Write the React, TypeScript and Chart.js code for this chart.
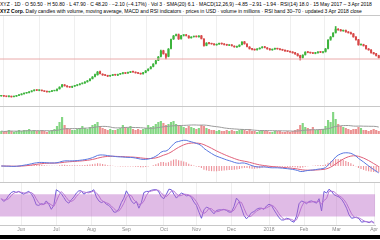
import React, { useEffect, useRef } from "react";
import { Chart, registerables } from "chart.js";
Chart.register(...registerables);

// ---- data ----
const monthLabels = ["Jun", "Jul", "Aug", "Sep", "Oct", "Nov", "Dec", "2018", "Feb", "Mar", "Apr"];
const monthStartIdx = [8, 22, 36, 50, 65, 78, 92, 107, 121, 134, 149];

const opens = [
  10.0, 10.3, 9.7, 9.4, 9.8, 9.2, 9.7, 10.5, 11.2, 12.0,
  12.9, 13.4, 14.3, 15.2, 16.1, 15.5, 15.8, 15.0, 14.7, 14.0,
  14.6, 15.2, 15.4, 17.0, 19.2, 21.3, 20.0, 19.3, 18.7, 19.8,
  20.5, 21.2, 22.3, 22.9, 24.1, 25.3, 27.2, 29.4, 31.0, 34.5,
  32.0, 31.2, 30.5, 29.9, 30.6, 31.5, 30.7, 31.8, 32.5, 33.2,
  32.8, 33.6, 34.5, 34.0, 33.2, 32.8, 32.1, 33.5, 35.4, 37.2,
  39.4, 42.3, 45.6, 49.5, 55.4, 52.0, 49.5, 57.4, 66.9, 70.4,
  71.5, 67.2, 70.5, 71.2, 70.1, 68.0, 69.2, 69.8, 69.0, 70.3,
  67.0, 60.5, 63.2, 62.6, 62.2, 61.0, 61.9, 62.8, 62.1, 61.5,
  60.6, 61.2, 60.0, 58.8, 59.5, 61.2, 64.3, 62.0, 59.1, 57.3,
  56.8, 56.2, 57.0, 58.2, 59.3, 58.2, 57.2, 56.0, 56.9, 57.6,
  57.1, 56.5, 55.9, 55.2, 54.8, 54.2, 53.3, 52.2, 50.5, 48.3,
  51.2, 54.2, 53.7, 53.2, 52.5, 53.2, 54.3, 53.5, 54.2, 57.5,
  66.4, 69.3, 73.2, 77.0, 76.3, 75.0, 75.8, 74.2, 73.5, 72.3,
  69.2, 66.4, 61.2, 61.5, 60.4, 57.2, 56.2, 53.4, 52.4, 50.5,
];
const highs = [
  10.6, 10.5, 9.9, 10.1, 10.0, 9.9, 10.6, 11.3, 12.4, 13.1,
  13.5, 14.3, 15.4, 16.3, 16.4, 16.2, 16.0, 15.2, 14.9, 14.8,
  15.3, 15.6, 17.2, 19.3, 21.6, 21.5, 20.3, 19.5, 19.9, 20.6,
  21.4, 22.4, 23.1, 24.3, 25.6, 27.4, 29.5, 31.8, 34.6, 35.0,
  32.3, 31.5, 30.8, 30.8, 31.5, 31.8, 31.9, 32.7, 33.3, 33.5,
  33.8, 34.5, 34.8, 34.2, 33.5, 33.0, 33.7, 35.5, 37.3, 39.5,
  42.4, 45.7, 49.6, 56.0, 55.8, 52.4, 57.5, 67.0, 70.6, 71.8,
  72.0, 70.6, 71.4, 71.6, 70.4, 69.4, 69.9, 70.1, 70.4, 70.6,
  67.3, 63.4, 63.6, 62.9, 62.5, 62.1, 62.8, 63.1, 62.4, 61.8,
  61.3, 61.5, 60.3, 59.9, 61.3, 64.4, 64.6, 62.3, 59.4, 57.6,
  57.1, 57.4, 58.3, 59.4, 59.6, 58.5, 57.5, 57.1, 57.8, 57.9,
  57.3, 56.8, 56.1, 55.5, 55.0, 54.4, 53.6, 52.5, 50.8, 51.3,
  54.3, 54.5, 54.0, 53.5, 53.7, 54.4, 54.6, 54.3, 57.6, 66.4,
  69.5, 73.4, 79.5, 77.4, 76.6, 76.0, 76.0, 74.5, 73.8, 72.6,
  69.5, 66.7, 61.8, 61.8, 60.7, 57.5, 56.5, 53.7, 52.7, 50.8,
];
const lows = [
  9.7, 9.5, 9.2, 9.2, 8.8, 9.0, 9.5, 10.3, 11.0, 11.8,
  12.6, 13.2, 14.0, 15.0, 15.3, 15.2, 15.0, 14.3, 13.8, 13.8,
  14.4, 15.0, 15.2, 16.8, 18.9, 19.8, 18.8, 18.5, 18.4, 19.5,
  20.2, 21.0, 22.0, 22.6, 23.8, 25.0, 27.0, 29.2, 30.8, 32.0,
  30.6, 30.3, 29.4, 29.6, 30.3, 30.6, 30.4, 31.5, 32.2, 32.3,
  32.5, 33.3, 33.7, 32.8, 32.4, 31.7, 31.8, 33.2, 35.1, 37.0,
  39.1, 42.0, 45.3, 49.2, 51.8, 47.0, 49.2, 57.1, 66.5, 70.0,
  66.5, 66.9, 70.0, 70.0, 67.7, 67.8, 68.9, 68.9, 68.8, 67.0,
  59.8, 60.2, 62.1, 61.7, 60.8, 60.7, 61.6, 61.7, 61.0, 60.5,
  60.3, 59.9, 58.7, 58.5, 59.2, 61.0, 61.8, 59.0, 56.9, 56.2,
  55.7, 55.9, 56.8, 57.9, 58.1, 56.7, 55.8, 55.7, 56.6, 56.7,
  56.0, 55.5, 54.7, 54.3, 53.7, 52.8, 51.7, 49.9, 46.0, 48.0,
  50.9, 53.2, 52.7, 52.3, 52.2, 52.9, 53.3, 53.2, 53.9, 57.2,
  65.7, 69.0, 72.9, 75.7, 74.8, 74.7, 73.7, 72.9, 71.8, 68.7,
  65.8, 60.7, 60.9, 59.9, 56.8, 55.7, 52.9, 51.8, 50.0, 47.9,
];
const closes = [
  10.2, 9.8, 9.5, 9.9, 9.1, 9.6, 10.4, 11.0, 12.1, 12.8,
  13.2, 14.0, 15.1, 16.0, 15.6, 15.9, 15.2, 14.6, 14.1, 14.5,
  15.0, 15.3, 16.8, 18.9, 21.0, 20.2, 19.1, 18.8, 19.6, 20.3,
  21.0, 22.1, 22.8, 24.0, 25.2, 27.0, 29.1, 31.5, 34.0, 32.2,
  31.0, 30.6, 29.8, 30.5, 31.2, 30.9, 31.6, 32.4, 33.0, 32.6,
  33.5, 34.2, 34.0, 33.1, 32.7, 32.0, 33.4, 35.2, 37.0, 39.1,
  42.0, 45.3, 49.0, 55.0, 52.1, 49.2, 57.0, 66.5, 70.1, 71.2,
  67.0, 70.2, 71.0, 70.3, 68.1, 69.0, 69.6, 69.2, 70.1, 67.3,
  60.2, 63.0, 62.4, 62.0, 61.1, 61.8, 62.5, 62.0, 61.3, 60.8,
  61.0, 60.2, 59.0, 59.6, 61.0, 64.0, 62.1, 59.3, 57.2, 56.6,
  56.0, 57.1, 58.0, 59.1, 58.4, 57.0, 56.1, 56.8, 57.5, 57.0,
  56.3, 55.8, 55.0, 54.6, 54.0, 53.1, 52.0, 50.2, 48.1, 51.0,
  54.0, 53.5, 53.0, 52.6, 53.4, 54.1, 53.6, 54.0, 57.2, 66.0,
  69.1, 73.0, 77.2, 76.0, 75.1, 75.6, 74.0, 73.2, 72.1, 69.0,
  66.1, 61.0, 61.3, 60.2, 57.1, 56.0, 53.2, 52.1, 50.3, 48.2,
];
const volumes = [
  3, 2, 3, 4, 3, 2, 3, 4, 3, 4,
  4, 5, 3, 4, 3, 3, 4, 3, 2, 3,
  4, 5, 8, 12, 17, 9, 6, 5, 4, 4,
  5, 6, 8, 6, 5, 7, 9, 10, 12, 8,
  6, 5, 4, 5, 4, 4, 5, 6, 9, 7,
  6, 8, 5, 4, 5, 4, 5, 6, 9, 7,
  8, 10, 12, 13, 11, 9, 10, 12, 13, 10,
  9, 8, 7, 6, 8, 7, 6, 5, 6, 9,
  8, 6, 5, 4, 4, 3, 4, 3, 3, 4,
  3, 4, 3, 3, 4, 5, 4, 3, 5, 3,
  3, 2, 3, 4, 3, 3, 2, 2, 3, 3,
  3, 2, 2, 3, 2, 3, 4, 5, 9, 11,
  7, 6, 5, 7, 4, 4, 5, 5, 8, 14,
  12, 22, 15, 10, 8, 7, 6, 5, 4, 5,
  5, 7, 6, 4, 4, 3, 4, 5, 4, 3,
];
const rsiValues = [
  62, 57, 61, 68, 73, 75, 73, 75, 72, 70,
  73, 75, 71, 63, 51, 50, 53, 52, 58, 52,
  43, 50, 78, 75, 71, 64, 57, 54, 60, 65,
  72, 76, 76, 70, 73, 74, 75, 78, 65, 58,
  55, 57, 52, 50, 45, 38, 38, 44, 55, 63,
  76, 68, 58, 53, 57, 45, 55, 73, 75, 75,
  77, 78, 78, 74, 65, 62, 70, 79, 78, 70,
  63, 68, 72, 70, 67, 68, 64, 56, 50, 38,
  27, 42, 47, 45, 40, 35, 41, 42, 42, 43,
  41, 38, 38, 48, 63, 58, 45, 32, 26, 31,
  37, 39, 43, 45, 45, 43, 49, 52, 50, 42,
  35, 28, 24, 24, 27, 26, 22, 20, 31, 53,
  58, 56, 53, 57, 58, 56, 54, 62, 40, 75,
  72, 79, 75, 69, 67, 65, 61, 54, 45, 33,
  27, 28, 29, 26, 20, 21, 21, 19, 22, 18,
];
const levelLine = 47;
const rsiUpper = 70;
const rsiLower = 30;

// ---- indicators ----
const N = closes.length;
const idx = closes.map((_, i) => i);
function ema(src: number[], n: number) {
  const k = 2 / (n + 1);
  let e = src[0];
  return src.map((v, i) => (e = i === 0 ? v : v * k + e * (1 - k)));
}
function sma(src: number[], n: number) {
  return src.map((_, i) => {
    const s = src.slice(Math.max(0, i - n + 1), i + 1);
    return s.reduce((a, b) => a + b, 0) / s.length;
  });
}
const e12 = ema(closes, 12), e26 = ema(closes, 26);
const macd = closes.map((_, i) => e12[i] - e26[i]);
const signal = ema(macd, 9);
const hist = macd.map((m, i) => m - signal[i]);
const volMA = sma(volumes, 20);
const rsiSmooth = sma(rsiValues, 3);

const UP = "#3db43d", DOWN = "#d84848";
const candleColors = idx.map(i => (closes[i] >= opens[i] ? UP : DOWN));
const volColors = idx.map(i => (closes[i] >= opens[i] ? "rgba(90,200,90,0.75)" : "rgba(228,110,110,0.75)"));

function xScale(showLabels: boolean) {
  return {
    type: "linear",
    min: -0.5,
    max: N - 0.5,
    offset: false,
    afterBuildTicks: (s: any) => { s.ticks = monthStartIdx.map(v => ({ value: v })); },
    ticks: {
      display: showLabels, autoSkip: false, maxRotation: 0, padding: 2,
      font: { size: 5, family: "'Liberation Sans', Arial, sans-serif" }, color: "#8a8a8a",
      callback: (_v: any, i: number) => monthLabels[i],
    },
    grid: { color: "#efefef", drawTicks: false, lineWidth: 1 },
    border: { display: showLabels, color: "#c8c8c8" },
  };
}
function opts(showLabels: boolean, y: any) {
  return {
    responsive: false, animation: false, events: [],
    layout: { padding: 0, autoPadding: false },
    plugins: { legend: { display: false }, tooltip: { enabled: false }, title: { display: false } },
    scales: { x: xScale(showLabels), y: { display: false, ...y } },
  } as any;
}
const flat = (v: number) => [{ x: -0.5, y: v }, { x: N - 0.5, y: v }];
const line = (vals: number[]) => vals.map((y, x) => ({ x, y }));

export default function App() {
  const priceRef = useRef<HTMLCanvasElement>(null);
  const volRef = useRef<HTMLCanvasElement>(null);
  const macdRef = useRef<HTMLCanvasElement>(null);
  const rsiRef = useRef<HTMLCanvasElement>(null);

  useEffect(() => {
    const charts: Chart[] = [];
    charts.push(new Chart(priceRef.current!, {
      type: "bar",
      data: {
        datasets: [
          { type: "line", data: flat(levelLine), borderColor: "#eaaaaa", borderWidth: 1, pointRadius: 0 } as any,
          { type: "bar", data: idx.map(i => ({ x: i, y: [lows[i], highs[i]] })), backgroundColor: candleColors, barThickness: 1, grouped: false } as any,
          { type: "bar", data: idx.map(i => ({ x: i, y: [opens[i], closes[i]] })), backgroundColor: candleColors, barPercentage: 0.8, categoryPercentage: 1, minBarLength: 1, grouped: false } as any,
        ],
      },
      options: opts(false, { min: 0, max: 90 }),
    }));
    charts.push(new Chart(volRef.current!, {
      type: "bar",
      data: {
        datasets: [
          { type: "line", data: line(volMA), borderColor: "#9a9a9a", borderWidth: 1, pointRadius: 0 } as any,
          { type: "bar", data: idx.map(i => ({ x: i, y: volumes[i] })), backgroundColor: volColors, barPercentage: 0.85, categoryPercentage: 1, grouped: false } as any,
        ],
      },
      options: opts(false, { min: 0, max: 27 }),
    }));
    charts.push(new Chart(macdRef.current!, {
      type: "bar",
      data: {
        datasets: [
          { type: "line", data: line(macd), borderColor: "#5a78e0", borderWidth: 1, pointRadius: 0 } as any,
          { type: "line", data: line(signal), borderColor: "#e0607a", borderWidth: 1, pointRadius: 0 } as any,
          { type: "bar", data: idx.map(i => ({ x: i, y: hist[i] })), backgroundColor: "rgba(232,120,130,0.8)", barPercentage: 0.45, categoryPercentage: 1, grouped: false } as any,
        ],
      },
      options: opts(false, { min: -6.5, max: 13 }),
    }));
    charts.push(new Chart(rsiRef.current!, {
      type: "line",
      data: {
        datasets: [
          { data: flat(rsiUpper), borderWidth: 0, pointRadius: 0, backgroundColor: "rgba(186,104,200,0.45)", fill: { value: rsiLower } } as any,
          { data: line(rsiSmooth), borderColor: "#b57ad8", borderWidth: 1, pointRadius: 0 } as any,
          { data: line(rsiValues), borderColor: "#6a5ad8", borderWidth: 1, pointRadius: 0 } as any,
        ],
      },
      options: opts(true, { min: 15, max: 90 }),
    }));
    return () => charts.forEach(c => c.destroy());
  }, []);

  const rule = { height: 1, background: "#c8c8c8" };
  return (
    <div style={{ position: "fixed", left: 0, top: 0, width: 380, height: 240, background: "#fff", overflow: "hidden", fontFamily: "'Liberation Sans', Arial, sans-serif" }}>
      <div style={{ height: 16, borderBottom: "1px solid #c8c8c8", fontSize: 5, lineHeight: "7px", color: "#000", whiteSpace: "nowrap", overflow: "hidden", paddingTop: 1, boxSizing: "border-box" }}>
        <div>XYZ · 1D · O 50.50 · H 50.80 · L 47.90 · C 48.20 · −2.10 (−4.17%) · Vol 3 · SMA(20) 6.1 · MACD(12,26,9) −4.85 −2.91 −1.94 · RSI(14) 18.0 · 15 May 2017 – 3 Apr 2018</div>
        <div><b>XYZ Corp.</b> Daily candles with volume, moving average, MACD and RSI indicators · prices in USD · volume in millions · RSI band 30–70 · updated 3 Apr 2018 close</div>
      </div>
      <canvas ref={priceRef} width={380} height={90} style={{ display: "block" }} />
      <div style={rule} />
      <canvas ref={volRef} width={380} height={27} style={{ display: "block" }} />
      <canvas ref={macdRef} width={380} height={48} style={{ display: "block" }} />
      <div style={rule} />
      <canvas ref={rsiRef} width={380} height={52} style={{ display: "block" }} />
      <div style={{ height: 4, background: "#000" }} />
    </div>
  );
}
